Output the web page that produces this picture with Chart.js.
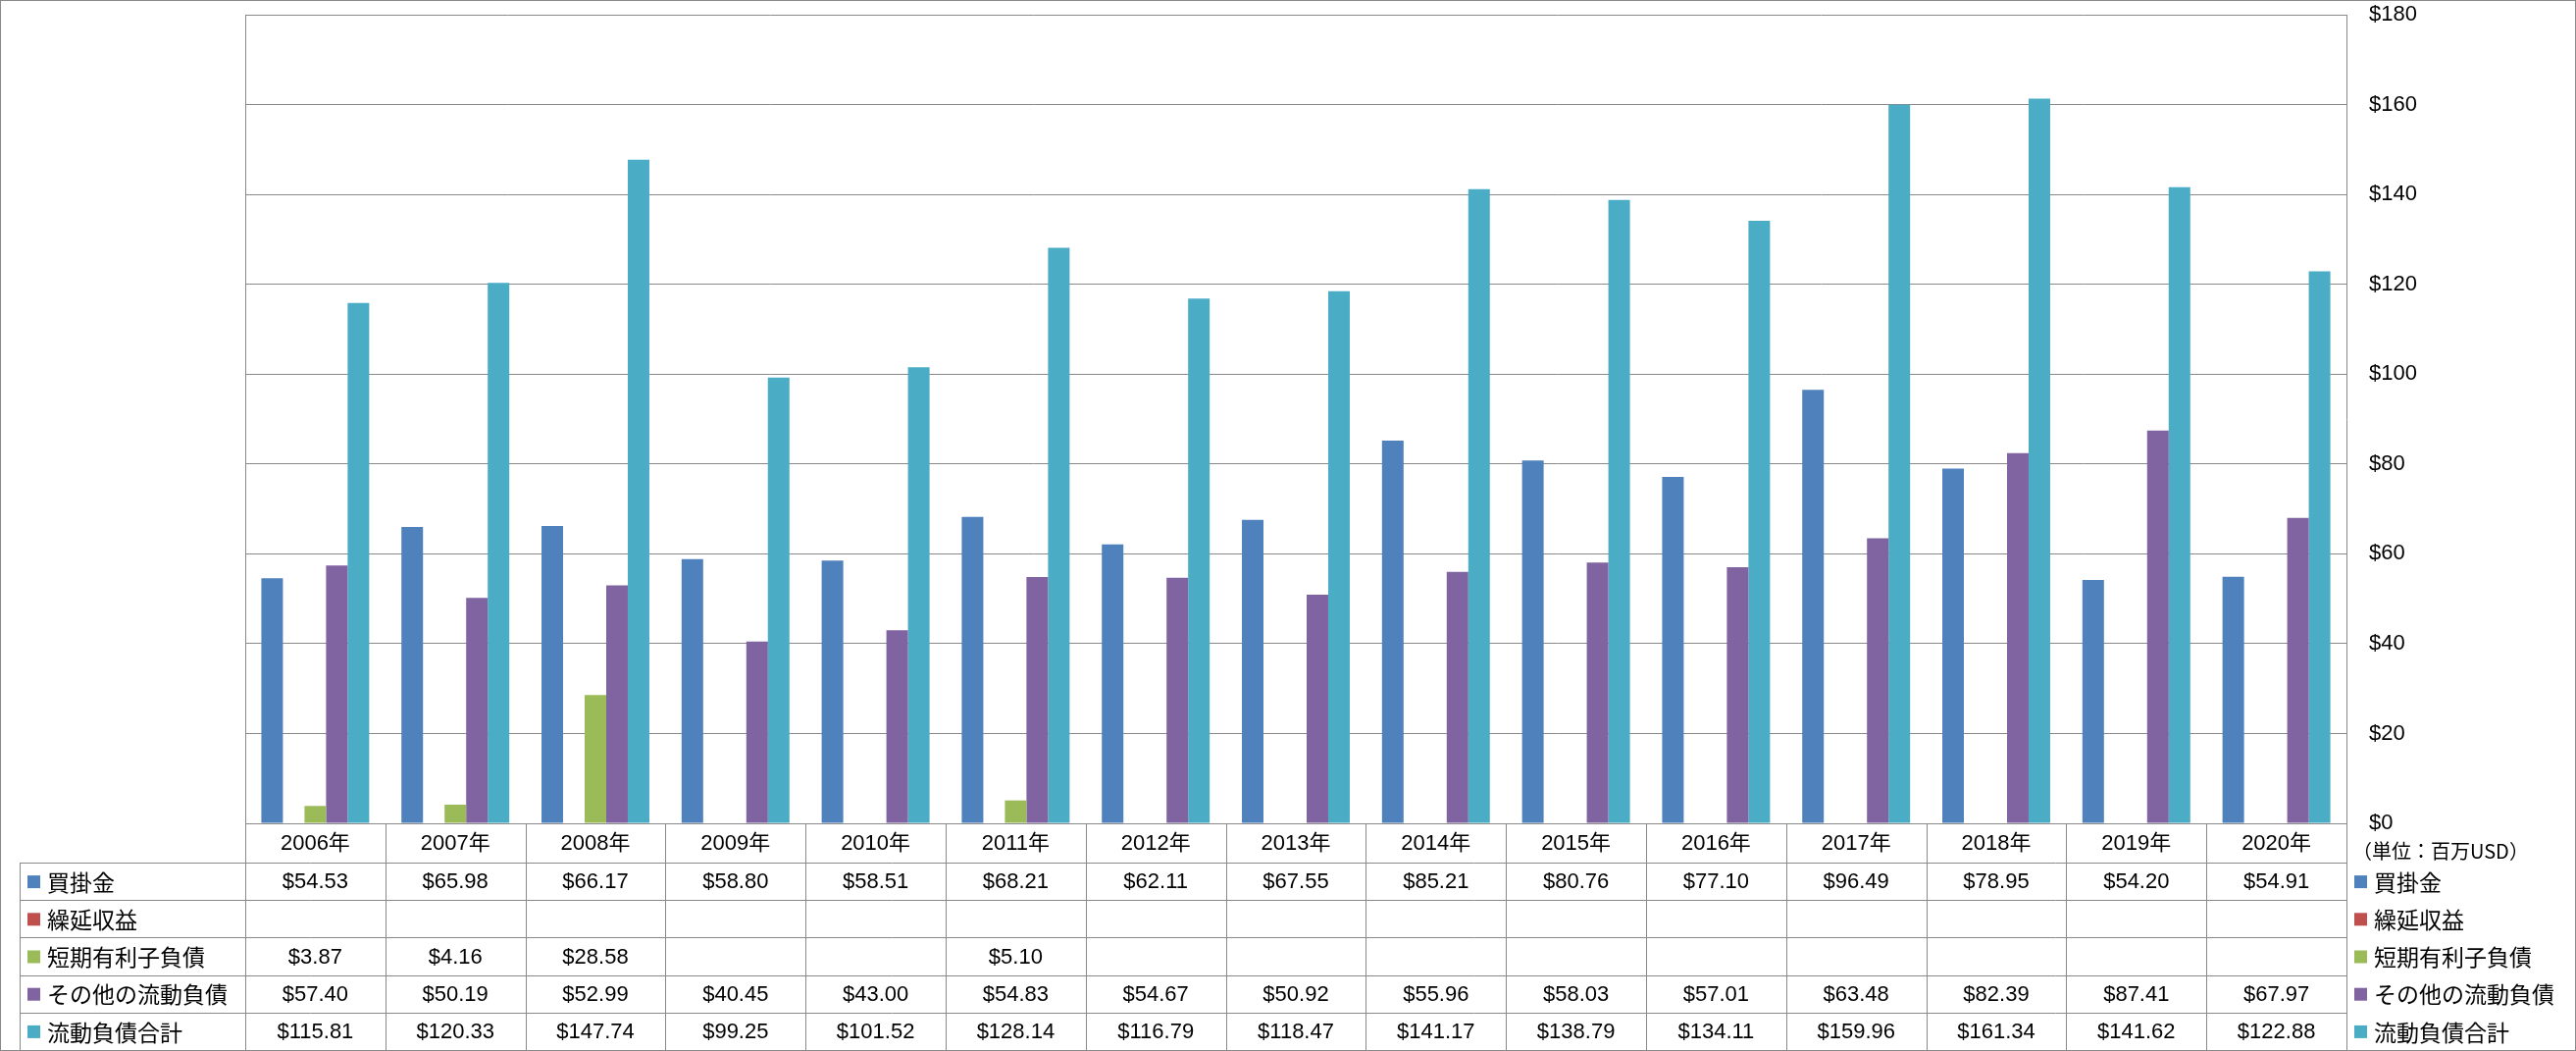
<!DOCTYPE html>
<html>
<head>
<meta charset="utf-8">
<script src="https://cdn.jsdelivr.net/npm/chart.js@4"></script>
<style>
html,body{margin:0;padding:0;background:#fff;}
canvas{display:block;}
</style>
</head>
<body>
<canvas id="c" width="2626" height="1071"></canvas>
<script>
const categories = ['2006年','2007年','2008年','2009年','2010年','2011年','2012年','2013年','2014年','2015年','2016年','2017年','2018年','2019年','2020年'];
const seriesNames = ['買掛金','繰延収益','短期有利子負債','その他の流動負債','流動負債合計'];
const accountsPayable = [54.53,65.98,66.17,58.80,58.51,68.21,62.11,67.55,85.21,80.76,77.10,96.49,78.95,54.20,54.91];
const deferredRevenue = [null,null,null,null,null,null,null,null,null,null,null,null,null,null,null];
const shortTermDebt = [3.87,4.16,28.58,null,null,5.10,null,null,null,null,null,null,null,null,null];
const otherCurrent = [57.40,50.19,52.99,40.45,43.00,54.83,54.67,50.92,55.96,58.03,57.01,63.48,82.39,87.41,67.97];
const totalCurrent = [115.81,120.33,147.74,99.25,101.52,128.14,116.79,118.47,141.17,138.79,134.11,159.96,161.34,141.62,122.88];
const unitLabel = '（単位：百万USD）';
const colors = ['#4F81BD','#C0504D','#9BBB59','#8064A2','#4BACC6'];
const seriesData = [accountsPayable, deferredRevenue, shortTermDebt, otherCurrent, totalCurrent];

const GRID = '#898989';
const NUMFONT = '22px "Liberation Sans", "Noto Sans CJK JP", sans-serif';
const JPFONT = '23px "Noto Sans CJK JP", "Liberation Sans", sans-serif';

const fmt = v => '$' + v.toFixed(2);

const tablePlugin = {
  id: 'dataTable',
  afterDraw(chart) {
    const ctx = chart.ctx;
    const xs = chart.scales.x;
    const ca = chart.chartArea;
    const n = categories.length;
    const colW = (ca.right - ca.left) / n;
    const headerTop = ca.bottom;
    const headerH = 40;
    const rowH = 38.2;
    const legendLeft = 20;
    const rowsTop = headerTop + headerH;
    const tableBottom = rowsTop + rowH * seriesNames.length;
    ctx.save();
    ctx.strokeStyle = GRID;
    ctx.lineWidth = 1;
    ctx.beginPath();
    ctx.moveTo(Math.round(ca.left) + 0.5, ca.top);
    ctx.lineTo(Math.round(ca.left) + 0.5, ca.bottom);
    ctx.stroke();
    ctx.beginPath();
    ctx.moveTo(ca.left, Math.round(headerTop) + 0.5);
    ctx.lineTo(ca.right, Math.round(headerTop) + 0.5);
    for (let r = 0; r <= seriesNames.length; r++) {
      const y = Math.round(rowsTop + r * rowH) + 0.5;
      ctx.moveTo(legendLeft, y);
      ctx.lineTo(ca.right, y);
    }
    for (let i = 0; i <= n; i++) {
      const x = Math.round(xs.getPixelForValue(0) - colW / 2 + i * colW) + 0.5;
      ctx.moveTo(x, headerTop);
      ctx.lineTo(x, tableBottom);
    }
    ctx.moveTo(legendLeft + 0.5, rowsTop);
    ctx.lineTo(legendLeft + 0.5, tableBottom);
    ctx.stroke();
    ctx.strokeRect(0.5, 0.5, chart.width - 1, chart.height - 1);

    ctx.fillStyle = '#000';
    ctx.textAlign = 'center';
    ctx.textBaseline = 'middle';
    ctx.font = NUMFONT;
    categories.forEach((c, i) => {
      ctx.fillText(c, xs.getPixelForValue(i), headerTop + headerH / 2 + 1);
    });
    seriesData.forEach((arr, r) => {
      const y = rowsTop + r * rowH + rowH / 2 + 1;
      arr.forEach((v, i) => {
        if (v === null || v === undefined) return;
        ctx.fillText(fmt(v), xs.getPixelForValue(i), y);
      });
    });
    ctx.textAlign = 'left';
    seriesNames.forEach((name, r) => {
      const y = rowsTop + r * rowH + rowH / 2;
      ctx.fillStyle = colors[r];
      ctx.fillRect(28, y - 6, 13, 13);
      ctx.fillRect(2400, y - 6, 13, 13);
      ctx.fillStyle = '#000';
      ctx.font = JPFONT;
      ctx.fillText(name, 48, y + 1);
      ctx.fillText(name, 2420, y + 1);
    });
    ctx.font = '20px "Noto Sans CJK JP", sans-serif';
    ctx.fillText(unitLabel, 2398, headerTop + 28);
    ctx.restore();
  }
};

new Chart(document.getElementById('c'), {
  type: 'bar',
  data: {
    labels: categories,
    datasets: seriesNames.map((name, i) => ({
      label: name,
      data: seriesData[i],
      backgroundColor: colors[i],
      borderWidth: 0,
      categoryPercentage: 0.77,
      barPercentage: 1.0
    }))
  },
  options: {
    responsive: false,
    animation: false,
    layout: { padding: { left: 250, top: 15, bottom: 232, right: 0 } },
    plugins: { legend: { display: false }, tooltip: { enabled: false } },
    scales: {
      x: { display: false },
      y: {
        position: 'right',
        min: 0, max: 180,
        afterFit(scale) { scale.width = 234; scale.paddingTop = 0; scale.paddingBottom = 0; },
        grid: { color: GRID, lineWidth: 1, drawTicks: false },
        border: { display: true, color: GRID, width: 1 },
        ticks: {
          stepSize: 20,
          padding: 23,
          color: '#000',
          font: { family: '"Liberation Sans", sans-serif', size: 22 },
          callback: v => '$' + v
        }
      }
    }
  },
  plugins: [tablePlugin]
});
</script>
</body>
</html>
